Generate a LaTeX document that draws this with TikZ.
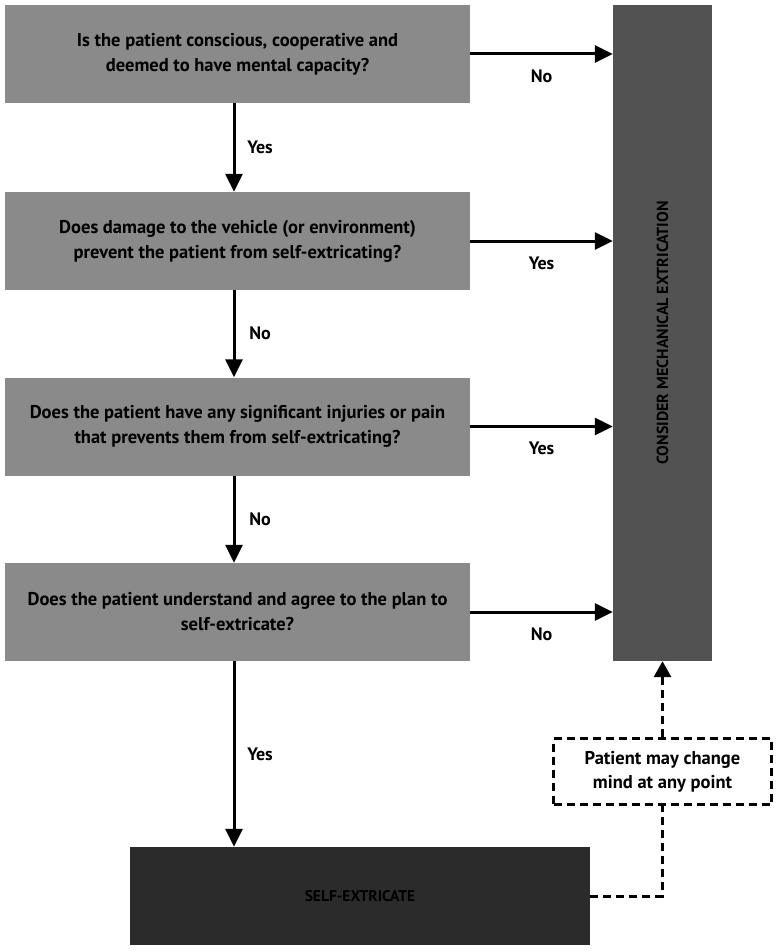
\documentclass[tikz,border=0pt]{standalone}
\usepackage{fontspec}
\usepackage{graphicx}
\setmainfont{PT Sans}
\usetikzlibrary{arrows.meta}
\definecolor{qgray}{HTML}{8A8A8A}
\definecolor{tallgray}{HTML}{525252}
\definecolor{selfgray}{HTML}{2B2B2B}
\begin{document}
\begin{tikzpicture}[x=1pt,y=-1pt,
  qbox/.style={fill=qgray, minimum width=465pt, minimum height=98pt, inner sep=0pt, align=center,
    font=\bfseries\fontsize{18.5}{25}\selectfont},
  arr/.style={line width=3pt, -{Triangle[length=18pt,width=17pt]}},
  lbl/.style={font=\bfseries\fontsize{18}{20}\selectfont},
  dsh/.style={line width=3pt, dash pattern=on 8pt off 5pt}]
\useasboundingbox (0,0) rectangle (780,952);
\node[qbox] (q1) at (237.5,54) {Is the patient conscious, cooperative and\\deemed to have mental capacity?};
\node[qbox] (q2) at (237.5,241) {Does damage to the vehicle (or environment)\\prevent the patient from self-extricating?};
\node[qbox] (q3) at (237.5,426.5) {Does the patient have any significant injuries or pain\\that prevents them from self-extricating?};
\node[qbox] (q4) at (237.5,612) {Does the patient understand and agree to the plan to\\self-extricate?};
\node[fill=tallgray, minimum width=99pt, minimum height=656pt, inner sep=0pt,
  font=\bfseries\fontsize{16}{18}\selectfont] (tall) at (662.5,333)
  {\rotatebox{90}{CONSIDER MECHANICAL EXTRICATION}};
\node[fill=selfgray, minimum width=460pt, minimum height=98pt, inner sep=0pt,
  font=\bfseries\fontsize{15.5}{18}\selectfont] (self) at (360,896) {SELF-EXTRICATE};
\node[draw, dsh, minimum width=218pt, minimum height=66pt, align=center, inner sep=0pt,
  font=\bfseries\fontsize{18.5}{24}\selectfont] (note) at (662.5,771.5)
  {Patient may change\\mind at any point};
% horizontal arrows
\draw[arr] (q1.east) -- (q1.east -| tall.west) node[lbl, midway, yshift=-22pt] {No};
\draw[arr] (q2.east) -- (q2.east -| tall.west) node[lbl, midway, yshift=-22pt] {Yes};
\draw[arr] (q3.east) -- (q3.east -| tall.west) node[lbl, midway, yshift=-22pt] {Yes};
\draw[arr] (q4.east) -- (q4.east -| tall.west) node[lbl, midway, yshift=-22pt] {No};
% vertical arrows
\draw[arr] ([xshift=-3.5pt]q1.south) -- ([xshift=-3.5pt]q2.north) node[lbl, midway, xshift=26pt] {Yes};
\draw[arr] ([xshift=-3.5pt]q2.south) -- ([xshift=-3.5pt]q3.north) node[lbl, midway, xshift=26pt] {No};
\draw[arr] ([xshift=-3.5pt]q3.south) -- ([xshift=-3.5pt]q4.north) node[lbl, midway, xshift=26pt] {No};
\draw[arr] ([xshift=-3.5pt]q4.south) -- ([xshift=-3.5pt]q4.south |- self.north) node[lbl, midway, xshift=26pt] {Yes};
% dashed connectors
\draw[dsh, -{Triangle[length=16pt,width=17pt]}] (note.north) -- (note.north |- tall.south);
\draw[dsh] (self.east) -| (note.south);
\end{tikzpicture}
\end{document}
